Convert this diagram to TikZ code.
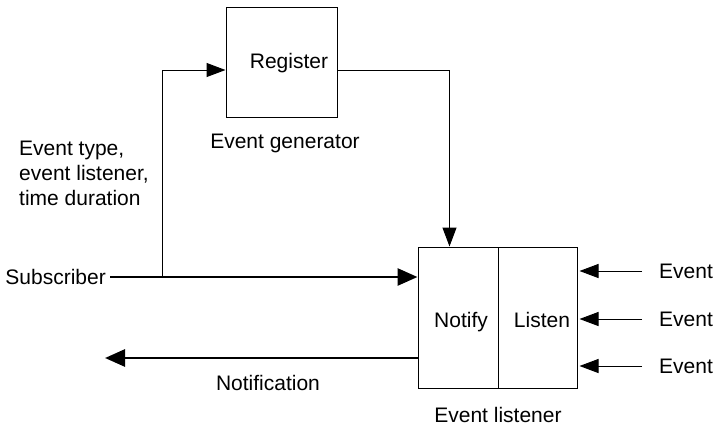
\documentclass[tikz,border=0pt]{standalone}
\usepackage{fontspec}
\setmainfont{Liberation Sans}
\usetikzlibrary{arrows.meta,calc}
\begin{document}
\begin{tikzpicture}[x=1pt,y=-1pt,
  every node/.style={font=\fontsize{21}{25}\selectfont, inner sep=0pt},
  box/.style={draw, line width=1pt, minimum width=#1},
  thin/.style={line width=1pt, -{Triangle[length=19pt,width=14pt]}},
  thick/.style={line width=2.8pt, -{Triangle[length=20pt,width=17pt]}},
  plain/.style={line width=1pt}]
  \useasboundingbox (0,0) rectangle (713,429);

  % event generator
  \node[box=111pt, minimum height=110pt] (reg) at (281.5,62) {};
  \node (regtext) at (289,63) {Register};
  \node (gen) at (285,143) {Event generator};

  % event listener: two halves
  \node[box=80pt, minimum height=141pt] (notify) at (458,317.5) {};
  \node[box=79pt, minimum height=141pt] (listen) at (537.5,317.5) {};
  \node[anchor=base] (notifytext) at (461,327) {Notify};
  \node[anchor=base] (listentext) at (542,327) {Listen};
  \node (lis) at (498,415) {Event listener};

  % subscriber side
  \node[anchor=east] (sub) at (106,277) {Subscriber};
  \node[anchor=west, align=left] (params) at (19,173)
    {Event type,\\event listener,\\time duration};
  \coordinate (j) at (162,277);
  \node (notif) at (268,383) {Notification};
  \coordinate (nend) at (105,358);

  % incoming events
  \node[anchor=west] (ev1) at (659,271) {Event};
  \node[anchor=west] (ev2) at (659,319) {Event};
  \node[anchor=west] (ev3) at (659,366) {Event};

  % connectors
  \draw[thick, shorten <=4pt] (sub.east) -- (sub -| notify.west);
  \draw[thin] (j) |- ([yshift=-8pt]reg.west);
  \draw[thin] ([yshift=-8pt]reg.east) -| ([xshift=32pt]notify.north west);
  \draw[thick] ([yshift=-40.5pt]notify.west) -- (nend);
  \foreach \e in {ev1,ev2,ev3}
    \draw[thin, shorten >=2pt] ([xshift=-17pt]\e.west) -- (\e -| listen.east);
\end{tikzpicture}
\end{document}
